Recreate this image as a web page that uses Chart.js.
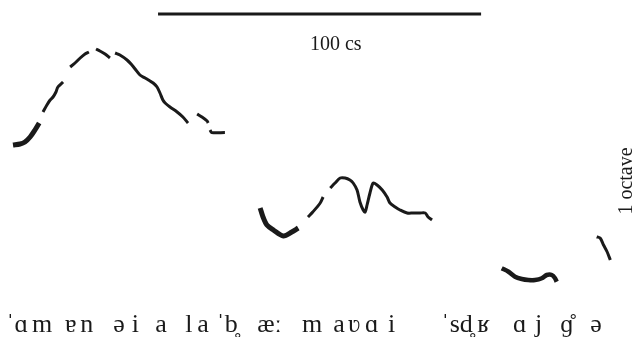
<!DOCTYPE html>
<html>
<head>
<meta charset="utf-8">
<script src="https://cdn.jsdelivr.net/npm/chart.js@4/dist/chart.umd.min.js"></script>
<style>
  body { margin: 0; background: #fff; }
  canvas { display: block; }
</style>
</head>
<body>
<canvas id="pitchChart" width="641" height="337"></canvas>
<script>
// time in centiseconds, pitch in semitones (arbitrary reference)
// voiced stretches, one pair of arrays per stretch
const amTime = [0.1, 2.3, 3.8, 5.4, 6.9, 8.2];
const amPitch = [12.4, 12.48, 12.64, 13.04, 13.6, 14.16];
const enTime = [9.4, 10.6, 11.6, 12.5, 13.4, 14.0, 15.6];
const enPitch = [15.04, 15.6, 16.0, 16.24, 16.64, 17.04, 17.44];
const eiTime = [17.8, 19.3, 20.9, 22.4, 23.6];
const eiPitch = [18.64, 18.96, 19.36, 19.68, 19.84];
const aTime = [25.8, 27.0, 28.6, 30.1];
const aPitch = [20.08, 19.92, 19.68, 19.36];
const laTime = [31.7, 33.2, 35.4, 36.9, 37.9, 39.4, 41.0, 42.5, 43.5, 44.7, 45.6, 46.5, 47.2, 48.7, 50.9, 52.7, 54.3];
const laPitch = [19.76, 19.6, 19.2, 18.8, 18.48, 18.0, 17.76, 17.52, 17.36, 17.04, 16.56, 16.0, 15.76, 15.44, 15.04, 14.64, 14.16];
const laTailTime = [57.1, 58.6, 60.2, 60.5];
const laTailPitch = [14.88, 14.64, 14.32, 14.16];
const bTime = [61.1, 61.6, 65.7];
const bPitch = [13.6, 13.4, 13.4];
const aeTime = [76.6, 77.5, 78.7, 80.7, 83.8, 86.4, 88.4];
const aePitch = [7.36, 6.64, 6.0, 5.6, 5.12, 5.44, 5.76];
const mTime = [91.4, 92.9, 95.2, 96.1];
const mPitch = [6.64, 7.04, 7.76, 8.24];
const avaiTime = [98.3, 99.8, 101.4, 102.9, 104.4, 105.4, 106.6, 107.5, 108.5, 109.1, 109.7, 110.6, 111.6, 112.8, 114.4, 115.9, 116.8, 118.4, 119.9, 122.1, 124.0, 126.1, 127.7, 128.6, 129.8];
const avaiPitch = [8.96, 9.36, 9.76, 9.76, 9.6, 9.36, 8.8, 7.84, 7.2, 7.04, 7.6, 8.56, 9.36, 9.2, 8.8, 8.24, 7.76, 7.44, 7.2, 6.96, 6.96, 6.96, 6.96, 6.64, 6.4];
const ajTime = [151.4, 153.5, 155.5, 157.6, 159.6, 161.7, 163.8, 165.3, 166.9, 167.9, 168.4];
const ajPitch = [2.54, 2.26, 1.86, 1.68, 1.6, 1.6, 1.74, 2.0, 2.0, 1.74, 1.46];
const eTime = [180.8, 181.9, 182.9, 184.0, 185.0];
const ePitch = [5.06, 4.94, 4.4, 3.86, 3.2];

// transcription under the contour, left edge of each segment in cs
const segLabels = ["ˈɑ", "m", "ɐ", "n", "ə", "i", "a", "l", "a", "ˈb̥", "æː", "m", "a", "ʋ", "ɑ", "i", "ˈsd̥", "ʁ", "ɑ", "j", "ɡ̊", "ə"];
const segStart = [-2.1, 6.0, 16.2, 20.9, 31.1, 36.9, 44.1, 53.4, 57.1, 63.0, 75.7, 89.6, 99.2, 103.8, 109.1, 116.2, 132.6, 143.8, 154.9, 161.7, 169.5, 178.8];

// stressed onsets are drawn heavier
const stretches = [
  [amTime, amPitch, 5],
  [enTime, enPitch, 3],
  [eiTime, eiPitch, 3],
  [aTime, aPitch, 3],
  [laTime, laPitch, 3],
  [laTailTime, laTailPitch, 3],
  [bTime, bPitch, 3],
  [aeTime, aePitch, 5],
  [mTime, mPitch, 3],
  [avaiTime, avaiPitch, 3],
  [ajTime, ajPitch, 4.5],
  [eTime, ePitch, 3],
];

document.addEventListener("DOMContentLoaded", () => {
  const ctx = document.getElementById("pitchChart").getContext("2d");
  const serif = '"Liberation Serif", "DejaVu Serif", serif';

  const overlay = {
    id: "overlay",
    afterDraw(chart) {
      const c = chart.ctx;
      const x = chart.scales.x;
      c.save();
      c.fillStyle = "#1a1a1a";
      c.strokeStyle = "#1a1a1a";

      // time scale bar
      c.lineWidth = 3;
      c.beginPath();
      c.moveTo(x.getPixelForValue(45), 14);
      c.lineTo(x.getPixelForValue(145), 14);
      c.stroke();
      c.font = "20px " + serif;
      c.textAlign = "center";
      c.textBaseline = "alphabetic";
      c.fillText("100 cs", x.getPixelForValue(100), 50);

      // pitch scale label
      c.save();
      c.translate(632, 181);
      c.rotate(-Math.PI / 2);
      c.fillText("1 octave", 0, 0);
      c.restore();

      // segments
      c.font = "26px " + serif;
      c.textAlign = "left";
      segLabels.forEach((label, i) => {
        c.fillText(label, x.getPixelForValue(segStart[i]), 332);
      });
      c.restore();
    },
  };

  new Chart(ctx, {
    type: "line",
    data: {
      datasets: stretches.map(([times, pitches, width]) => ({
        data: times.map((t, i) => ({ x: t, y: pitches[i] })),
        borderColor: "#1a1a1a",
        borderWidth: width,
        borderCapStyle: "butt",
        borderJoinStyle: "round",
        pointRadius: 0,
        tension: 0.3,
        fill: false,
      })),
    },
    options: {
      responsive: false,
      animation: false,
      layout: { padding: 0 },
      plugins: {
        legend: { display: false },
        tooltip: { enabled: false },
      },
      scales: {
        x: { type: "linear", display: false, min: -3.92, max: 194.5 },
        y: { type: "linear", display: false, min: -2.96, max: 24 },
      },
    },
    plugins: [overlay],
  });
});
</script>
</body>
</html>
